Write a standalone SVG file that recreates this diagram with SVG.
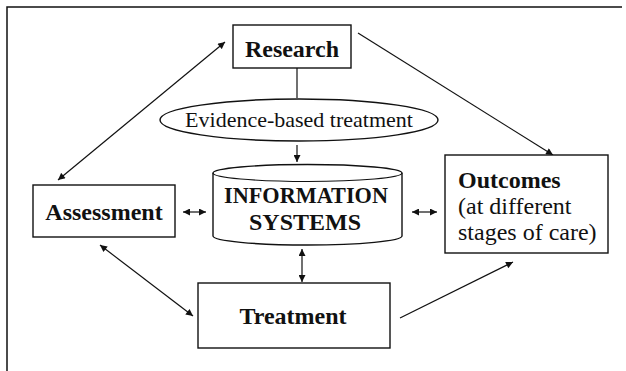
<svg xmlns="http://www.w3.org/2000/svg" width="626" height="371" viewBox="0 0 626 371">
<defs>
<marker id="ah" viewBox="0 0 10 10" refX="10" refY="5" markerWidth="8" markerHeight="7" markerUnits="userSpaceOnUse" orient="auto-start-reverse">
<path d="M0,0 L10,5 L0,10 z" fill="#111"/>
</marker>
<style>
.box{fill:#fff;stroke:#111;stroke-width:1.4}
.ln{fill:none;stroke:#111;stroke-width:1.2}
.t{font-family:"Liberation Serif","Times New Roman",serif;font-size:24px;fill:#111}
.b{font-weight:bold}
</style>
</defs>
<rect width="626" height="371" fill="#fff"/>
<path d="M7,371 V7 H622" fill="none" stroke="#111" stroke-width="1.5"/>

<g id="connectors">
<line class="ln" x1="297" y1="68" x2="297" y2="98"/>
<line class="ln" x1="297" y1="145" x2="297" y2="162" marker-end="url(#ah)"/>
<line class="ln" x1="58" y1="180" x2="225" y2="42" marker-start="url(#ah)" marker-end="url(#ah)"/>
<line class="ln" x1="358" y1="33" x2="553" y2="155" marker-end="url(#ah)"/>
<line class="ln" x1="100" y1="245" x2="193" y2="316" marker-start="url(#ah)" marker-end="url(#ah)"/>
<line class="ln" x1="400" y1="318" x2="513" y2="262" marker-end="url(#ah)"/>
<line class="ln" x1="183" y1="212" x2="206" y2="212" marker-start="url(#ah)" marker-end="url(#ah)"/>
<line class="ln" x1="412" y1="212" x2="437" y2="212" marker-start="url(#ah)" marker-end="url(#ah)"/>
<line class="ln" x1="302" y1="249" x2="302" y2="282" marker-start="url(#ah)" marker-end="url(#ah)"/>
</g>

<g id="research">
<rect class="box" x="233" y="25" width="118" height="43"/>
<text class="t b" x="292" y="57" text-anchor="middle">Research</text>
</g>

<g id="evidence">
<ellipse class="box" cx="299" cy="120" rx="139" ry="21"/>
<text class="t" x="299" y="127" text-anchor="middle" style="font-size:22px">Evidence-based treatment</text>
</g>

<g id="information-systems">
<path class="box" d="M213,173 A94.5,8.5 0 0 1 402,173 V236 A94.5,9 0 0 1 213,236 Z"/>
<path class="ln" d="M213,173 A94.5,8.5 0 0 0 402,173"/>
<text class="t b" x="306" y="203" text-anchor="middle" textLength="164" lengthAdjust="spacingAndGlyphs">INFORMATION</text>
<text class="t b" x="305" y="230" text-anchor="middle">SYSTEMS</text>
</g>

<g id="assessment">
<rect class="box" x="33" y="185" width="142" height="52"/>
<text class="t b" x="104" y="220" text-anchor="middle">Assessment</text>
</g>

<g id="outcomes">
<rect class="box" x="445" y="155" width="163" height="98"/>
<text class="t b" x="458" y="188">Outcomes</text>
<text class="t" x="458" y="214">(at different</text>
<text class="t" x="458" y="240">stages of care)</text>
</g>

<g id="treatment">
<rect class="box" x="198" y="283" width="192" height="65"/>
<text class="t b" x="293" y="324" text-anchor="middle">Treatment</text>
</g>
</svg>
